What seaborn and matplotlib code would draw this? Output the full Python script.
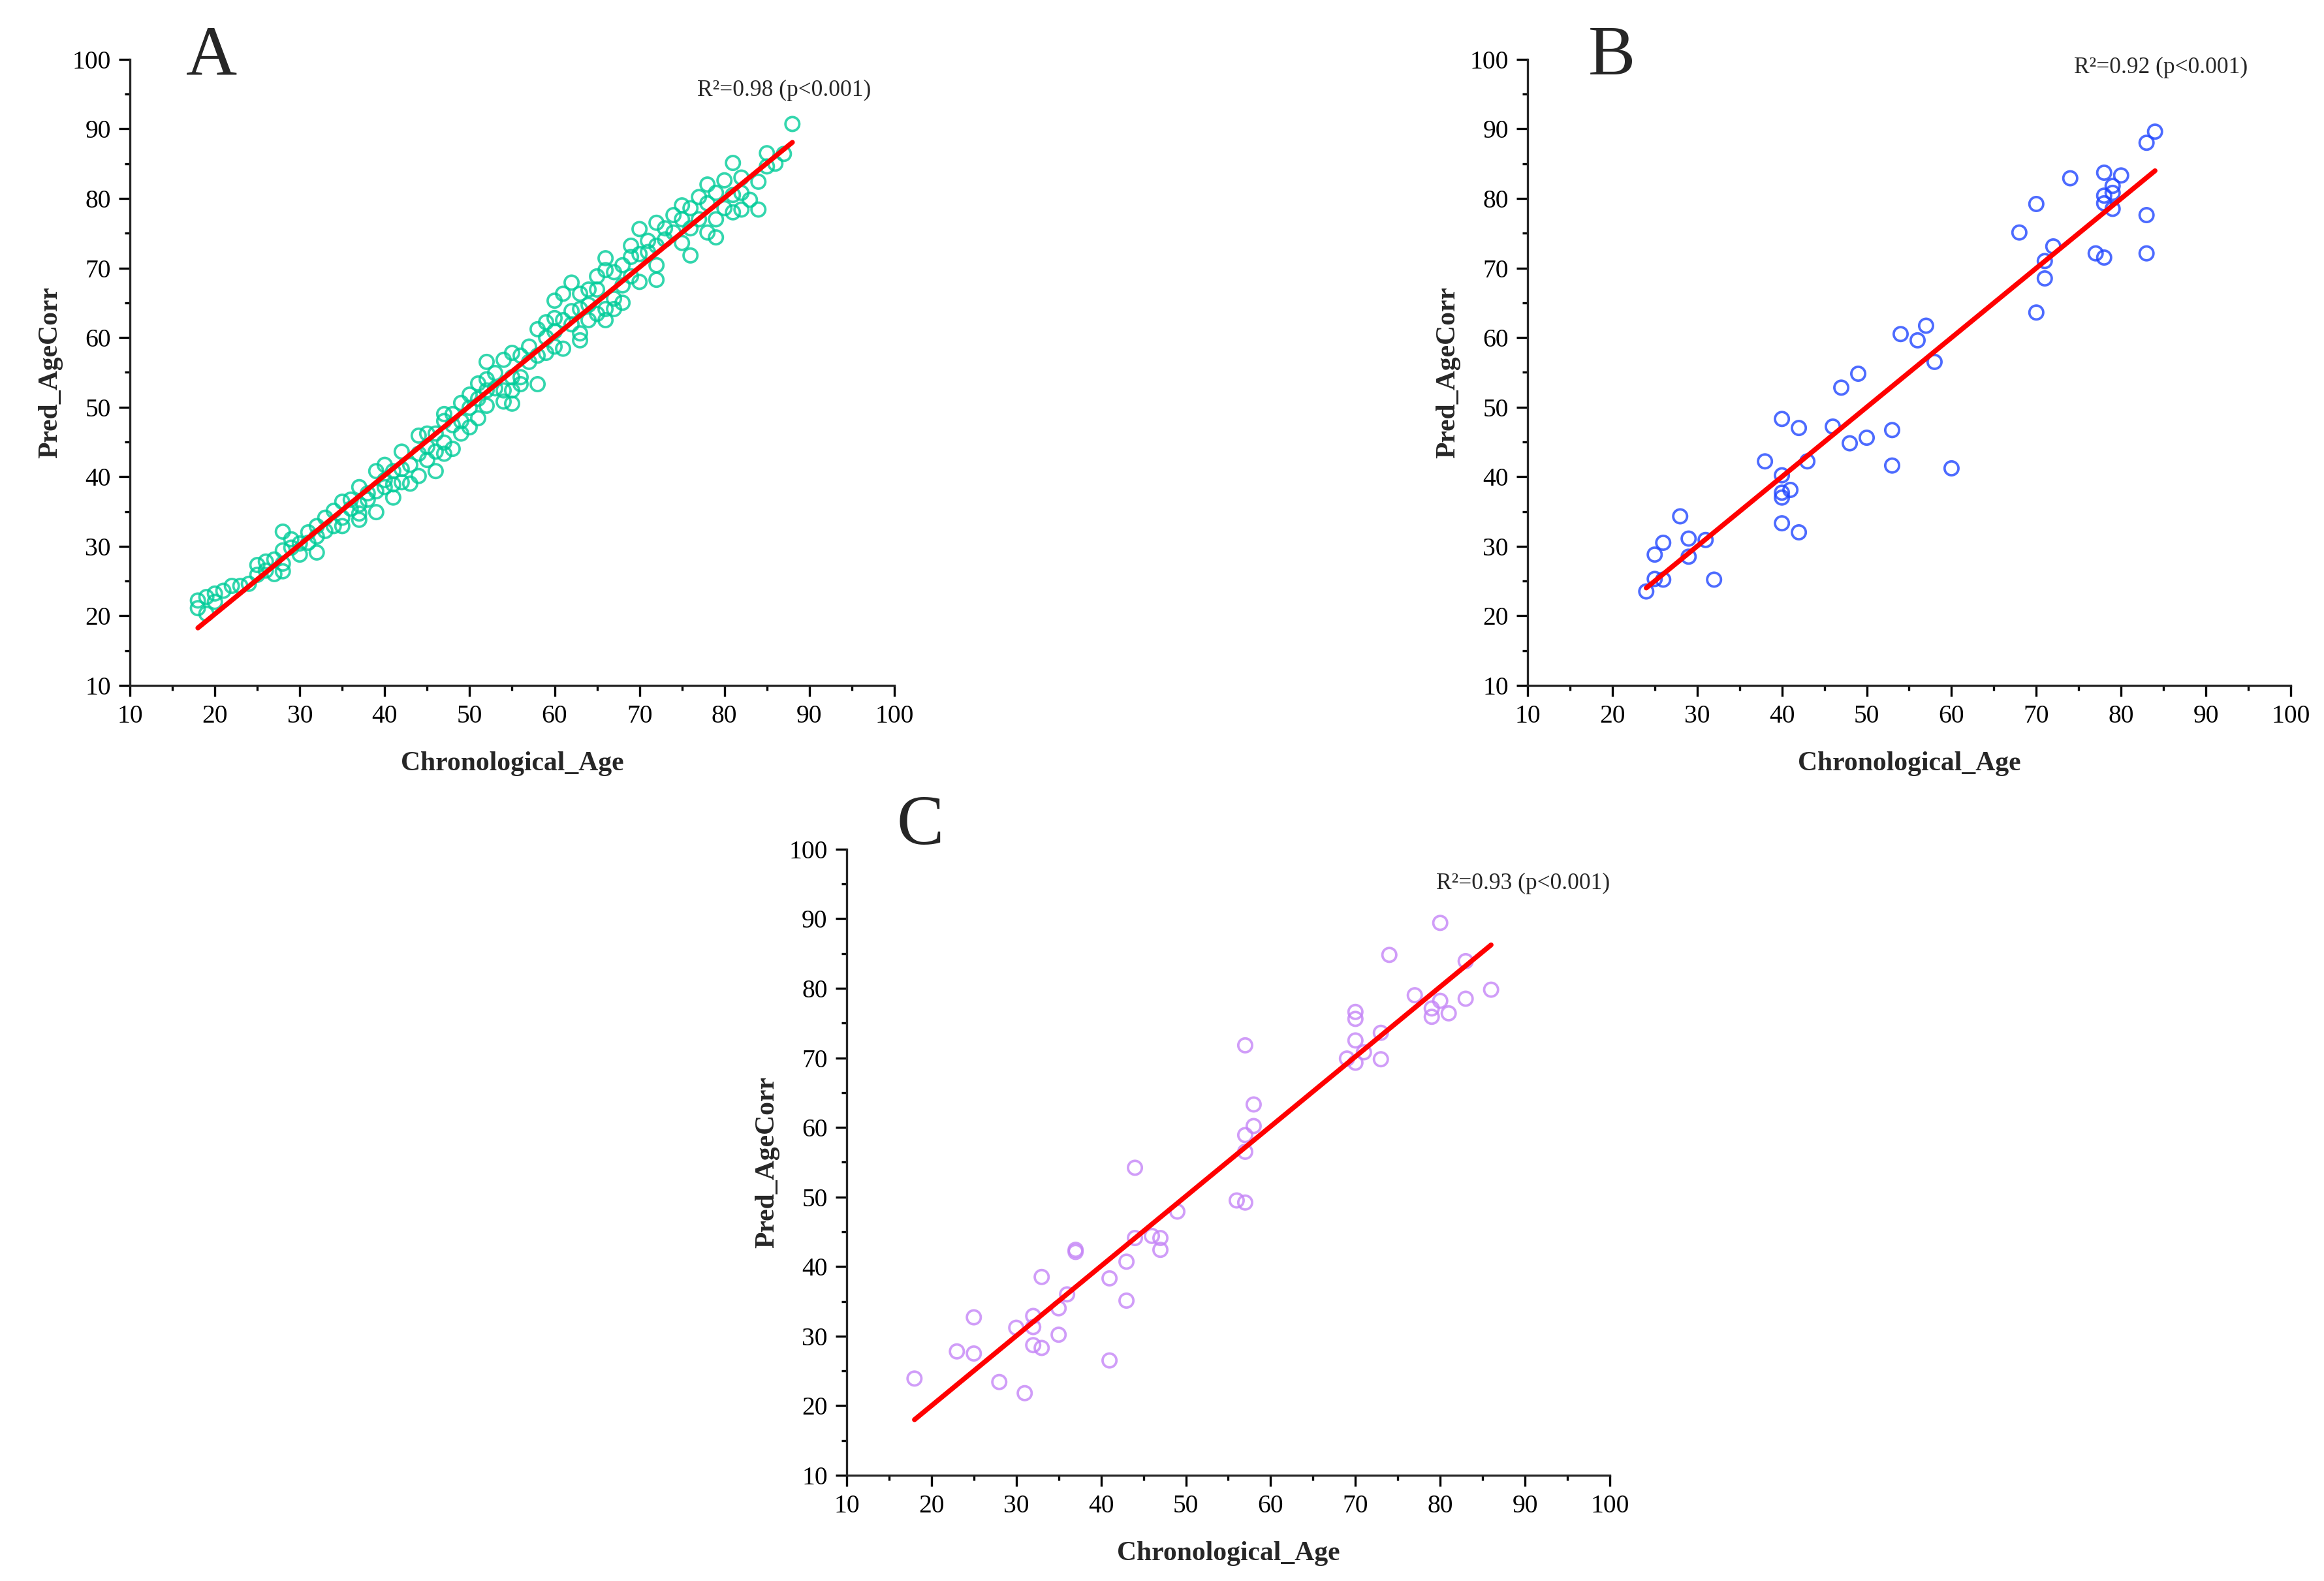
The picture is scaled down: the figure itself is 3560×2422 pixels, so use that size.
import seaborn as sns
import pandas as pd
import matplotlib.pyplot as plt
from matplotlib.ticker import MultipleLocator

# Panel A (training set)
age_a = [18, 18, 19, 19, 20, 20, 21, 22, 23, 24,
         25, 25, 26, 26, 27, 27, 28, 28, 28, 28, 29, 29, 30, 30, 31, 31,
         32, 32, 32, 33, 33, 34, 34, 35, 35, 35, 36, 36, 37, 37, 37, 37,
         38, 38, 39, 39, 39, 40, 40, 40, 41, 41, 41, 42, 42, 42, 43, 43,
         44, 44, 44, 45, 45, 45, 46, 46, 46, 47, 47, 47, 47, 48, 48, 48,
         49, 49, 49, 50, 50, 50, 51, 51, 51, 52, 52, 52, 52, 53, 53,
         54, 54, 54, 55, 55, 55, 55, 56, 56, 56, 57, 57, 58, 58, 58,
         59, 59, 59, 60, 60, 60, 60, 61, 61, 61, 62, 62, 62, 63, 63, 63, 63,
         64, 64, 64, 65, 65, 65, 66, 66, 66, 66, 67, 67, 67, 68, 68, 68,
         69, 69, 69, 70, 70, 70, 71, 71, 72, 72, 72, 72, 73, 73, 74, 74,
         75, 75, 75, 76, 76, 76, 77, 77, 78, 78, 78, 79, 79, 79, 80, 80,
         81, 81, 81, 82, 82, 82, 83, 84, 84, 85, 85, 86, 87, 88]
pred_a = [22.2, 21.1, 22.7, 20.3, 23.2, 22.0, 23.6, 24.3, 24.3, 24.6,
          27.3, 25.9, 27.8, 26.5, 28.1, 26.0, 32.1, 29.4, 27.5, 26.4, 31.0, 29.8, 30.4, 28.8, 32.0, 30.5,
          32.9, 31.4, 29.1, 34.1, 32.2, 35.1, 32.9, 36.4, 34.1, 32.9, 36.7, 35.4, 38.5, 36.0, 34.7, 33.8,
          37.6, 36.7, 40.8, 37.9, 34.9, 41.7, 39.5, 38.5, 40.8, 38.9, 37.0, 43.6, 41.1, 39.2, 41.7, 39.0,
          45.9, 43.3, 40.1, 46.2, 44.3, 42.4, 46.2, 43.6, 40.8, 49.0, 48.0, 44.9, 43.3, 49.0, 47.4, 44.0,
          50.6, 48.0, 46.2, 51.8, 49.9, 47.1, 53.4, 51.2, 48.4, 56.5, 54.0, 52.4, 50.2, 54.9, 52.7,
          56.8, 52.4, 50.8, 57.8, 54.3, 52.4, 50.5, 57.4, 54.3, 53.3, 58.7, 56.5, 61.2, 57.4, 53.3,
          62.2, 60.0, 57.8, 65.3, 62.8, 60.9, 58.7, 66.3, 62.5, 58.4, 67.9, 63.8, 61.9, 66.3, 64.1, 60.6, 59.6,
          66.9, 64.7, 62.5, 68.8, 66.9, 63.4, 71.4, 69.7, 64.1, 62.5, 69.4, 65.6, 64.1, 70.4, 67.5, 65.0,
          73.2, 71.6, 68.8, 75.6, 72.0, 68.0, 73.9, 72.3, 76.5, 73.2, 70.4, 68.3, 75.7, 74.1, 77.6, 75.1,
          79.0, 77.0, 73.6, 78.6, 75.7, 71.8, 80.2, 77.0, 82.0, 79.3, 75.1, 80.8, 77.0, 74.4, 82.6, 78.6,
          85.1, 80.5, 78.0, 83.0, 80.8, 78.4, 79.8, 82.4, 78.4, 86.5, 84.6, 85.0, 86.4, 90.7]

# Panel B
age_b = [24, 25, 26, 25, 26, 28, 29, 29, 31, 32, 38, 40, 40, 40, 40, 41, 40, 42,
         42, 43, 46, 47, 48, 49, 50, 53, 53, 54, 56, 57, 58, 60, 68, 70, 70, 71,
         71, 72, 74, 77, 78, 78, 78, 78, 79, 79, 79, 80, 83, 83, 83, 84]
pred_b = [23.5, 25.3, 25.2, 28.8, 30.5, 34.3, 31.1, 28.5, 30.9, 25.2, 42.2, 48.3,
          40.2, 37.7, 37.0, 38.1, 33.3, 32.0, 47.0, 42.2, 47.2, 52.8, 44.8, 54.8,
          45.6, 46.7, 41.6, 60.5, 59.6, 61.7, 56.5, 41.2, 75.1, 79.2, 63.6, 71.0,
          68.5, 73.1, 82.9, 72.1, 71.5, 83.7, 80.4, 79.3, 81.8, 80.8, 78.5, 83.3,
          88.0, 77.6, 72.1, 89.6]

# Panel C
age_c = [18, 23, 25, 25, 28, 30, 31, 32, 32, 32, 33, 33, 35, 35, 36, 37, 37, 41,
         41, 43, 43, 44, 44, 46, 47, 47, 49, 56, 57, 57, 57, 57, 58, 58, 69, 70,
         70, 70, 70, 71, 73, 73, 74, 77, 79, 79, 80, 80, 81, 83, 83, 86]
pred_c = [23.9, 27.8, 32.7, 27.5, 23.4, 31.2, 21.8, 32.9, 31.3, 28.7, 38.5, 28.3,
          34.0, 30.2, 36.0, 42.4, 42.1, 38.3, 26.5, 40.7, 35.1, 54.2, 44.1, 44.4,
          44.1, 42.4, 47.9, 49.5, 49.2, 71.8, 58.9, 56.5, 63.3, 60.2, 69.9, 76.6,
          75.6, 72.5, 69.3, 70.8, 73.6, 69.8, 84.8, 79.0, 77.1, 75.9, 89.4, 78.2,
          76.4, 83.9, 78.5, 79.8]

panels = [
    ("A", age_a, pred_a, "#00CC99", "R²=0.98 (p<0.001)", (87.0, 95.5), (19.6, 100.2)),
    ("B", age_b, pred_b, "#2046FF", "R²=0.92 (p<0.001)", (84.7, 98.8), (19.9, 100.3)),
    ("C", age_c, pred_c, "#C585F7", "R²=0.93 (p<0.001)", (89.8, 95.1), (18.7, 103.2)),
]

sns.set_style("ticks")
plt.rcParams["font.family"] = ["Liberation Serif", "DejaVu Serif"]
plt.rcParams["axes.linewidth"] = 0.8

fig = plt.figure(figsize=(3561 / 300, 2422 / 300), dpi=300)
boxes = {
    "A": [0.0559, 0.5665, 0.3288, 0.396],
    "B": [0.6571, 0.5665, 0.3283, 0.396],
    "C": [0.3642, 0.0669, 0.3283, 0.396],
}

for letter, ages, preds, color, r2, r2_pos, let_pos in panels:
    ax = fig.add_axes(boxes[letter])
    df = pd.DataFrame({"Chronological_Age": ages, "Pred_AgeCorr": preds})
    sns.regplot(data=df, x="Chronological_Age", y="Pred_AgeCorr", ax=ax, ci=None,
                scatter_kws={"s": 26, "facecolors": "none", "edgecolors": color,
                             "linewidths": 0.9},
                line_kws={"color": "red", "lw": 1.8})
    ax.set_xlim(10, 100)
    ax.set_ylim(10, 100)
    ax.xaxis.set_major_locator(MultipleLocator(10))
    ax.yaxis.set_major_locator(MultipleLocator(10))
    ax.xaxis.set_minor_locator(MultipleLocator(5))
    ax.yaxis.set_minor_locator(MultipleLocator(5))
    ax.tick_params(which="major", direction="out", length=4, width=0.8,
                   labelsize=9.5, pad=3, color="black", labelcolor="black")
    ax.tick_params(which="minor", direction="out", length=2, width=0.8, color="black")
    sns.despine(ax=ax)
    ax.set_xlabel("Chronological_Age", fontsize=10, fontweight="bold")
    ax.set_ylabel("Pred_AgeCorr", fontsize=10, fontweight="bold")
    ax.xaxis.set_label_coords(0.5, -0.105)
    ax.yaxis.set_label_coords(-0.088, 0.5)
    ax.text(r2_pos[0], r2_pos[1], r2, fontsize=8.5, ha="center", va="center")
    ax.text(let_pos[0], let_pos[1], letter, fontsize=26, ha="center", va="center",
            clip_on=False)

fig.savefig("out.png", dpi=300, facecolor="white")
